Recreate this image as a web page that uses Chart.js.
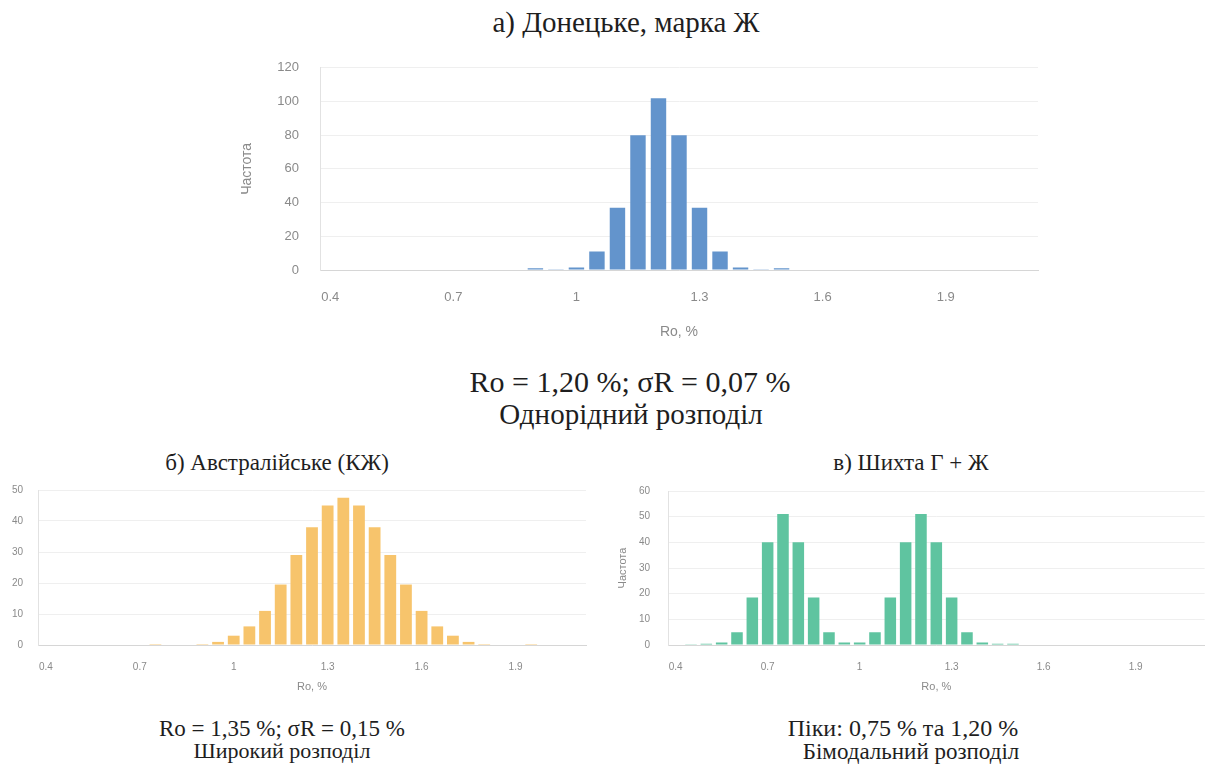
<!DOCTYPE html>
<html lang="uk">
<head>
<meta charset="utf-8">
<title>Розподіл відбивної здатності вітриніту</title>
<script src="https://cdn.jsdelivr.net/npm/chart.js@4.4.0/dist/chart.umd.min.js"></script>
<style>
  body { margin: 0; background: #fff; }
  #page { position: relative; width: 1213px; height: 766px; overflow: hidden; background: #fff; }
  .cap {
    position: absolute;
    font-family: "Liberation Serif", "Times New Roman", serif;
    color: #1e1e1e;
    white-space: nowrap;
    transform: translate(-50%, -50%);
    line-height: 1;
  }
  .box { position: absolute; }
</style>
</head>
<body>
<div id="page">
  <div class="cap" style="left:626px; top:22px; font-size:29px;">а) Донецьке, марка Ж</div>
  <div class="box" style="left:235px; top:39px; width:815px; height:306px;"><canvas id="chart-a"></canvas></div>
  <div class="cap" style="left:630px; top:382px; font-size:30px;">Ro = 1,20 %; σR = 0,07 %</div>
  <div class="cap" style="left:631px; top:414px; font-size:29px;">Однорідний розподіл</div>

  <div class="cap" style="left:277px; top:462px; font-size:23px;">б) Австралійське (КЖ)</div>
  <div class="box" style="left:0px; top:469px; width:600px; height:229px;"><canvas id="chart-b"></canvas></div>
  <div class="cap" style="left:282px; top:728px; font-size:23px;">Ro = 1,35 %; σR = 0,15 %</div>
  <div class="cap" style="left:282px; top:751px; font-size:22px;">Широкий розподіл</div>

  <div class="cap" style="left:911px; top:462px; font-size:23px;">в) Шихта Г + Ж</div>
  <div class="box" style="left:612px; top:467px; width:601px; height:231px;"><canvas id="chart-c"></canvas></div>
  <div class="cap" style="left:903px; top:728px; font-size:24px;">Піки: 0,75 % та 1,20 %</div>
  <div class="cap" style="left:911px; top:751px; font-size:23px;">Бімодальний розподіл</div>
</div>

<script>
// ===== Data =====
const roBins = ['0.4', '0.45', '0.5', '0.55', '0.6', '0.65', '0.7', '0.75', '0.8', '0.85',
  '0.9', '0.95', '1', '1.05', '1.1', '1.15', '1.2', '1.25', '1.3', '1.35',
  '1.4', '1.45', '1.5', '1.55', '1.6', '1.65', '1.7', '1.75', '1.8', '1.85',
  '1.9', '1.95', '2', '2.05', '2.1'];
const xTickLabels = ['0.4', '0.7', '1', '1.3', '1.6', '1.9'];

const donetskFreq = [0, 0, 0, 0, 0, 0, 0, 0, 0, 0,
  1, 0.5, 1.5, 11, 37, 80, 102, 80, 37, 11, 1.5, 0.5, 1,
  0, 0, 0, 0, 0, 0, 0, 0, 0, 0, 0, 0];
const australiaFreq = [0, 0, 0, 0, 0, 0, 0,
  0.3, 0, 0, 0.3, 1, 3, 6, 11, 19.5, 29, 38, 45, 47.5, 45, 38, 29, 19.5, 11, 6, 3, 1, 0.3,
  0, 0, 0.3, 0, 0, 0];
const blendFreq = [0, 0.3, 0.5, 1, 5, 18.5, 40, 51, 40, 18.5, 5, 1,
  1, 5, 18.5, 40, 51, 40, 18.5, 5, 1, 0.5, 0.5,
  0, 0, 0, 0, 0, 0, 0, 0, 0, 0, 0, 0];

const yMaxA = 120, yStepA = 20;
const yMaxB = 50, yStepB = 10;
const yMaxC = 60, yStepC = 10;

// ===== Chart builder =====
function makeHistogram(id, data, color, yMax, yStep, o) {
  const ctx = document.getElementById(id).getContext('2d');
  return new Chart(ctx, {
    type: 'bar',
    data: {
      labels: roBins,
      datasets: [{
        data: data,
        backgroundColor: color,
        borderWidth: 0,
        categoryPercentage: 0.8,
        barPercentage: 0.94
      }]
    },
    options: {
      responsive: true,
      maintainAspectRatio: false,
      animation: false,
      devicePixelRatio: 1,
      layout: { padding: { top: 0, right: o.padRight, left: 0, bottom: 0 } },
      plugins: { legend: { display: false }, tooltip: { enabled: false } },
      scales: {
        x: {
          grid: { display: false, drawTicks: false },
          border: { display: true, color: '#d6d6d6' },
          ticks: {
            autoSkip: false,
            maxRotation: 0,
            padding: o.xPad,
            color: '#8a8a8a',
            font: { family: 'Liberation Sans, Arial, sans-serif', size: o.tickSize },
            callback: function (v) {
              const lab = this.getLabelForValue(v);
              return xTickLabels.includes(lab) ? lab : '';
            }
          },
          title: {
            display: true,
            text: 'Ro, %',
            color: '#8a8a8a',
            font: { family: 'Liberation Sans, Arial, sans-serif', size: o.titleSize }
          },
          afterFit: (s) => { s.height = o.xHeight; }
        },
        y: {
          min: 0,
          max: yMax,
          grid: { color: '#efefef', drawTicks: false },
          border: { display: true, color: '#e2e2e2' },
          ticks: {
            stepSize: yStep,
            padding: o.yPad,
            color: '#8a8a8a',
            font: { family: 'Liberation Sans, Arial, sans-serif', size: o.tickSize }
          },
          title: {
            display: o.yTitle,
            text: 'Частота',
            color: '#8a8a8a',
            font: { family: 'Liberation Sans, Arial, sans-serif', size: o.titleSize }
          },
          afterFit: (s) => { s.width = o.yWidth; }
        }
      }
    }
  });
}

makeHistogram('chart-a', donetskFreq, '#6394cc', yMaxA, yStepA,
  { padRight: 12, xPad: 20, yPad: 21, tickSize: 13, titleSize: 14, xHeight: 75, yWidth: 85, yTitle: true });
makeHistogram('chart-b', australiaFreq, '#f7c46c', yMaxB, yStepB,
  { padRight: 14, xPad: 16, yPad: 15, tickSize: 10, titleSize: 11, xHeight: 53, yWidth: 38, yTitle: false });
makeHistogram('chart-c', blendFreq, '#5fc4a0', yMaxC, yStepC,
  { padRight: 3, xPad: 16, yPad: 18, tickSize: 10, titleSize: 11, xHeight: 53, yWidth: 56, yTitle: true });
</script>
</body>
</html>
